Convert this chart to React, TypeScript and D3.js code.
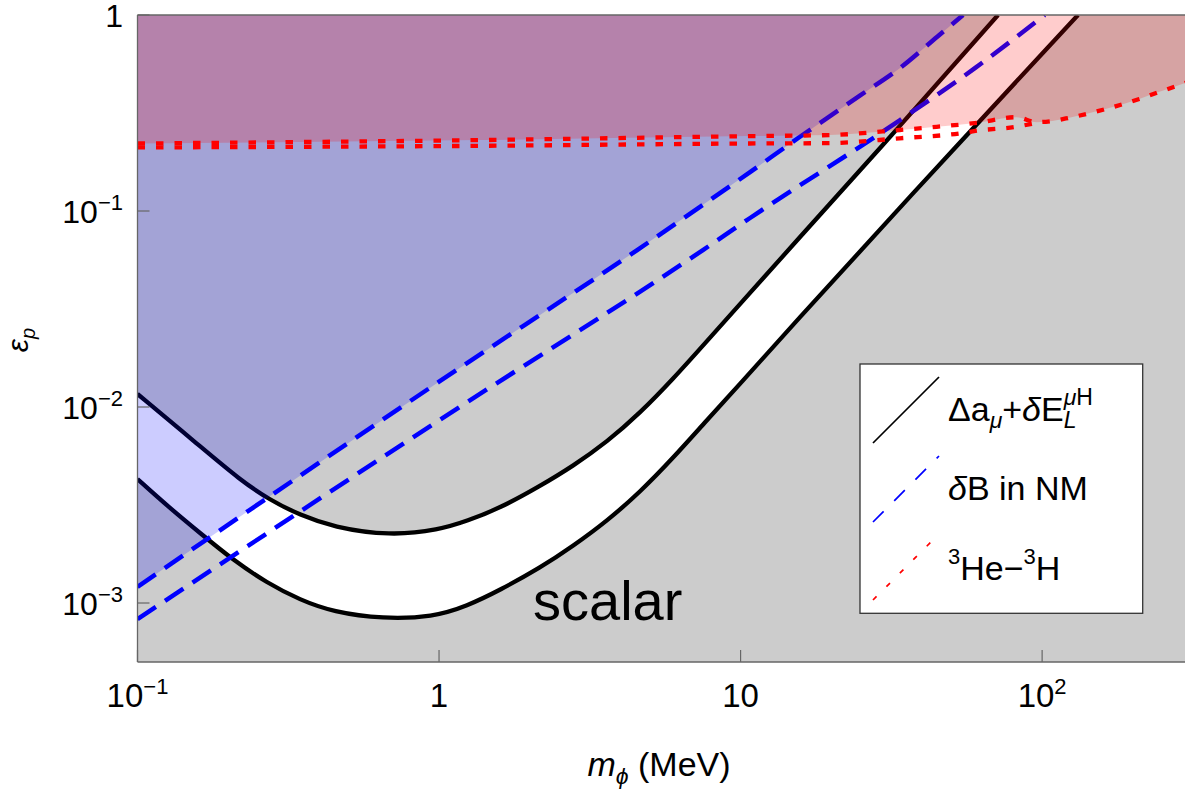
import React from 'react';
import * as d3 from 'd3';

const W = 1185;
const H = 789;

// axis ticks
const xTickValues = [0.1, 1, 10, 100];
const xTickBase = ['10', '1', '10', '10'];
const xTickExp = ['\u22121', '', '', '2'];
const yTickValues = [0.001, 0.01, 0.1, 1];
const yTickBase = ['10', '10', '10', '1'];
const yTickExp = ['\u22123', '\u22122', '\u22121', ''];

// Δa_μ + δE_L band : upper and lower black curves
const massBandUpper = [0.1, 0.161, 0.219, 0.275, 0.346, 0.445, 0.688, 1.0, 1.239, 1.594, 2.163, 2.783, 3.606, 4.642, 5.971, 7.686, 9.95, 14.59, 33.8, 71.4];
const epsBandUpper = [0.01165, 0.00632, 0.00424, 0.00335, 0.00281, 0.00244, 0.0022, 0.00236, 0.00262, 0.00305, 0.00395, 0.005, 0.00663, 0.00932, 0.0139, 0.02146, 0.0335, 0.0647, 0.2715, 1.0];
const massBandLower = [0.1, 0.128, 0.161, 0.2074, 0.269, 0.346, 0.445, 0.652, 0.955, 1.239, 1.594, 2.163, 2.783, 3.606, 4.642, 5.971, 7.686, 9.95, 14.59, 33.8, 131.5];
const epsBandLower = [0.00429, 0.00305, 0.00228, 0.001657, 0.001265, 0.001036, 0.0009, 0.000829, 0.000848, 0.000965, 0.001165, 0.00151, 0.001953, 0.00262, 0.00368, 0.00549, 0.00848, 0.0131, 0.0253, 0.1048, 1.0];

// δB in nuclear matter : blue dashed
const massNMUpper = [0.1, 1, 4.54, 10.75, 15.7, 25, 33.8, 45, 54.7];
const epsNMUpper = [0.00121, 0.01346, 0.0632, 0.158, 0.2385, 0.39, 0.537, 0.777, 1.0];
const massNMLower = [0.1, 1, 7.5, 10.75, 33.8, 60, 102];
const epsNMLower = [0.000828, 0.00855, 0.0632, 0.0921, 0.291, 0.537, 1.0];

// 3He - 3H : red dotted
const massHeUpper = [0.1, 1.36, 10.7, 19.7, 33.7, 44.7, 61, 82, 96, 108, 123, 161, 210, 242, 279, 300];
const epsHeUpper = [0.221, 0.23, 0.241, 0.244, 0.259, 0.269, 0.282, 0.301, 0.284, 0.288, 0.299, 0.33, 0.373, 0.403, 0.434, 0.452];
const massHeLower = [0.1, 1.36, 10.7, 19.7, 33.7, 54.5, 61, 82, 96];
const epsHeLower = [0.211, 0.215, 0.221, 0.222, 0.235, 0.25, 0.257, 0.269, 0.282];

const FONT = "'Liberation Sans', Arial, Helvetica, sans-serif";

type P = [number, number];
const zip = (m: number[], e: number[]): P[] => m.map((v, i) => [v, e[i]]);

export default function App() {
  const left = 137.5, right = 1186, top = 15, bottom = 662;
  const x = d3.scaleLog().domain([0.1, 300]).range([left, right]);
  const y = d3.scaleLog().domain([5e-4, 1]).range([bottom, top]);

  const line = d3.line<P>().x(d => x(d[0])).y(d => y(d[1])).curve(d3.curveMonotoneX);
  const smooth = d3.line<P>().x(d => x(d[0])).y(d => y(d[1])).curve(d3.curveBasis);

  const bandU = zip(massBandUpper, epsBandUpper);
  const bandL = zip(massBandLower, epsBandLower);
  const nmU = zip(massNMUpper, epsNMUpper);
  const nmL = zip(massNMLower, epsNMLower);
  const heU = zip(massHeUpper, epsHeUpper);
  const heL = zip(massHeLower, epsHeLower);

  const xMin = x.domain()[0];
  const xMax = x.domain()[1];
  const yMax = y.domain()[1];
  const topLeft = `L${x(xMin)},${y(yMax)}Z`;

  const aboveLower = (smooth(bandL) as string) + topLeft;
  const aboveUpper = (smooth(bandU) as string) + topLeft;
  const bluePath = (line(nmU) as string) + topLeft;
  const redPath = (line(heU) as string) + `L${x(xMax)},${y(yMax)}` + topLeft;

  const tickLen = 12;
  const frame = '#666';

  return (
    <svg width={W} height={H} style={{ position: 'absolute', left: 0, top: 0, display: 'block' }} fontFamily={FONT}>
      <defs>
        <clipPath id="plotclip">
          <rect x={left} y={top} width={right - left} height={bottom - top} />
        </clipPath>
      </defs>
      <rect x={0} y={0} width={W} height={H} fill="#fff" />
      <g clipPath="url(#plotclip)">
        <rect x={left} y={top} width={right - left} height={bottom - top} fill="#cccccc" />
        <path d={aboveLower} fill="#ffffff" />
        <path d={aboveUpper} fill="#cccccc" />
        <path d={smooth(bandU) as string} fill="none" stroke="#000" strokeWidth={4.3} />
        <path d={smooth(bandL) as string} fill="none" stroke="#000" strokeWidth={4.3} />
        <path d={bluePath} fill="rgba(0,0,255,0.2)" />
        <path d={line(nmU) as string} fill="none" stroke="#0000ff" strokeWidth={4.5} strokeDasharray="22 11" />
        <path d={line(nmL) as string} fill="none" stroke="#0000ff" strokeWidth={4.5} strokeDasharray="22 11" />
        <path d={redPath} fill="rgba(255,0,0,0.2)" />
        <path d={line(heU) as string} fill="none" stroke="#ff0000" strokeWidth={4.3} strokeDasharray="7.5 11" />
        <path d={line(heL) as string} fill="none" stroke="#ff0000" strokeWidth={4.3} strokeDasharray="7.5 11" />
      </g>

      {/* frame */}
      <line x1={left} x2={left} y1={top} y2={bottom} stroke={frame} strokeWidth={1.3} />
      <line x1={left} x2={right} y1={bottom} y2={bottom} stroke={frame} strokeWidth={1.3} />
      <line x1={left} x2={right} y1={top} y2={top} stroke={frame} strokeWidth={1.3} />

      {xTickValues.map((v, i) => (
        <g key={'xt' + i}>
          <line x1={x(v)} x2={x(v)} y1={bottom} y2={bottom - tickLen} stroke={frame} strokeWidth={1.2} />
          <text x={x(v)} y={707} fontSize={33} textAnchor="middle" fill="#000">
            {xTickBase[i]}
            {xTickExp[i] && <tspan fontSize={22} dy={-13}>{xTickExp[i]}</tspan>}
          </text>
        </g>
      ))}
      {yTickValues.map((v, i) => (
        <g key={'yt' + i}>
          <line x1={left} x2={left + tickLen} y1={y(v)} y2={y(v)} stroke={frame} strokeWidth={1.2} />
          <text x={123} y={y(v) + 12} fontSize={32} textAnchor="end" fill="#000">
            {yTickBase[i]}
            {yTickExp[i] && <tspan fontSize={22} dy={-13}>{yTickExp[i]}</tspan>}
          </text>
        </g>
      ))}

      {/* axis labels */}
      <text x={659} y={776} fontSize={34} textAnchor="middle" fill="#000">
        <tspan fontStyle="italic">m</tspan>
        <tspan fontSize={23} dy={8} fontStyle="italic">ϕ</tspan>
        <tspan dy={-8}> (MeV)</tspan>
      </text>
      <text transform="translate(28,340) rotate(-90)" fontSize={30} textAnchor="middle" fill="#000">
        <tspan fontStyle="italic">ε</tspan>
        <tspan fontSize={20} dy={7} fontStyle="italic">p</tspan>
      </text>

      <text x={533} y={620} fontSize={56} fill="#000">scalar</text>

      {/* legend */}
      <rect x={860} y={364} width={282.7} height={249.3} fill="#fff" stroke="#333" strokeWidth={1.3} />
      <line x1={873} y1={443} x2={939} y2={377} stroke="#000" strokeWidth={1.7} />
      <line x1={873} y1={522} x2={939} y2={456} stroke="#0000ff" strokeWidth={1.7} strokeDasharray="15 15" />
      <line x1={873} y1={600} x2={939} y2={534} stroke="#ff0000" strokeWidth={1.7} strokeDasharray="5 14" />

      <text x={948} y={421} fontSize={34} fill="#000">
        Δa
        <tspan fontSize={23} dy={7} fontStyle="italic">μ</tspan>
        <tspan dy={-7}>+</tspan>
        <tspan fontStyle="italic">δ</tspan>
        <tspan>E</tspan>
        <tspan fontSize={23} dy={7} fontStyle="italic">L</tspan>
        <tspan fontSize={23} dx={-12.8} dy={-23} fontStyle="italic">μ</tspan>
        <tspan fontSize={23}>H</tspan>
      </text>
      <text x={948} y={500} fontSize={34} fill="#000">
        <tspan fontStyle="italic">δ</tspan>B in NM
      </text>
      <text x={948} y={580} fontSize={34} fill="#000">
        <tspan fontSize={22} dy={-16}>3</tspan>
        <tspan dy={16}>He−</tspan>
        <tspan fontSize={22} dy={-16}>3</tspan>
        <tspan dy={16}>H</tspan>
      </text>
    </svg>
  );
}
